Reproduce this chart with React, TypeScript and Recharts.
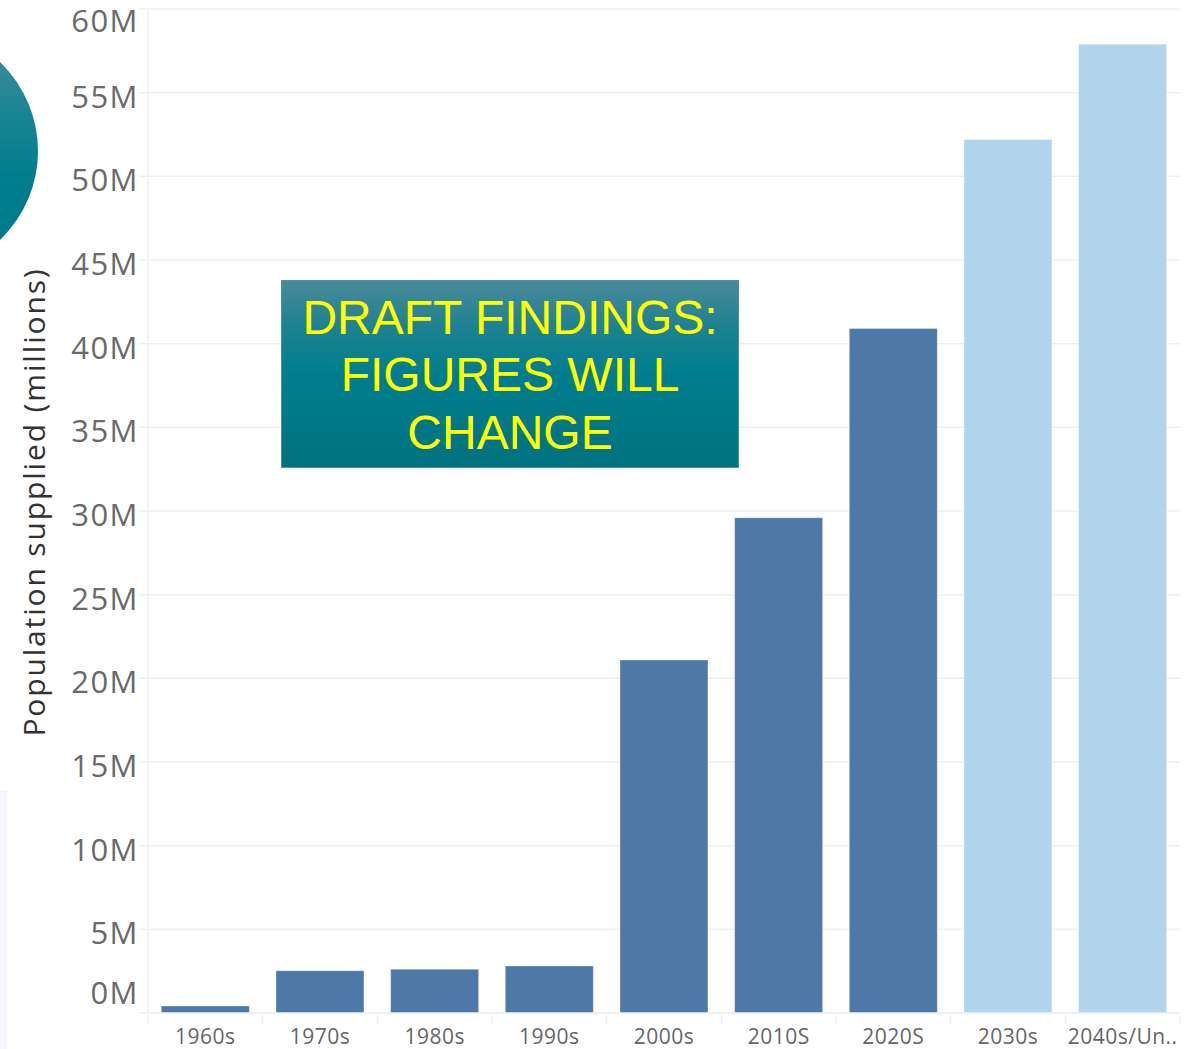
import React from 'react';
import { BarChart, Bar, XAxis, YAxis, CartesianGrid, Cell } from 'recharts';

const categories = ['1960s', '1970s', '1980s', '1990s', '2000s', '2010S', '2020S', '2030s', '2040s/Un..'];
const population = [0.42, 2.53, 2.61, 2.81, 21.1, 29.6, 40.9, 52.2, 57.9];
const projected = [false, false, false, false, false, false, false, true, true];
const yTicks = [0, 5, 10, 15, 20, 25, 30, 35, 40, 45, 50, 55, 60];

const data = categories.map((c, i) => ({ name: c, value: population[i], projected: projected[i] }));

const ACTUAL = '#4e78a6';
const FORECAST = '#b1d5ec';
const GRID = '#efefef';
const FONT = '"Open Sans", "Noto Sans", sans-serif';

const YTick = (props: any) => {
  const { x, y, payload } = props;
  let dy = 3;
  if (payload.value === 60) dy = 11;
  if (payload.value === 0) dy = -21;
  return (
    <text x={x + 2} y={y + dy} textAnchor="end" dominantBaseline="central" fill="#6a6a6a"
      fontFamily={FONT} fontSize={31} letterSpacing={1.5}>
      {payload.value}M
    </text>
  );
};

const XTick = (props: any) => {
  const { x, y, payload, index, width, visibleTicksCount } = props;
  const bw = width && visibleTicksCount ? width / visibleTicksCount : 114.7;
  const last = index === (visibleTicksCount || 9) - 1;
  return (
    <g>
      <line x1={x - bw / 2} x2={x - bw / 2} y1={y - 9} y2={y} stroke={GRID} strokeWidth={1.5} />
      {last && <line x1={x + bw / 2} x2={x + bw / 2} y1={y - 9} y2={y} stroke={GRID} strokeWidth={1.5} />}
      <text x={x} y={y + 12} textAnchor="middle" dominantBaseline="central" fill="#666"
        fontFamily={FONT} fontSize={21} letterSpacing={0.5}>
        {payload.value}
      </text>
    </g>
  );
};

export default function App() {
  return (
    <div style={{ position: 'absolute', left: 0, top: 0, width: 1184, height: 1049, background: '#fff', overflow: 'hidden' }}>
      <div style={{ position: 'absolute', left: 0, top: 790, width: 7, height: 259, background: '#f7f5fd' }} />
      <BarChart width={1184} height={1049} data={data}
        margin={{ top: 9, right: 4, left: 0, bottom: 0 }} barCategoryGap="11.6%">
        <CartesianGrid vertical={false} stroke={GRID} strokeWidth={1.5} />
        <XAxis dataKey="name" height={36} axisLine={{ stroke: GRID, strokeWidth: 1.5 }}
          tickLine={false} tickSize={9} tick={<XTick />} interval={0} />
        <YAxis width={148} domain={[0, 60]} ticks={yTicks} interval={0}
          axisLine={{ stroke: GRID, strokeWidth: 1.5 }} tickLine={{ stroke: GRID, strokeWidth: 1.5 }} tickSize={9}
          tick={<YTick />}
          label={{ value: 'Population supplied (millions)', angle: -90, position: 'insideLeft', dx: 29, dy: -9,
            style: { fontFamily: FONT, fontSize: 30, fill: '#333', letterSpacing: 1.85, textAnchor: 'middle' } }} />
        <Bar dataKey="value" isAnimationActive={false} stroke="rgba(255,255,255,0.35)" strokeWidth={1}>
          {data.map((d, i) => (
            <Cell key={i} fill={d.projected ? FORECAST : ACTUAL} />
          ))}
        </Bar>
      </BarChart>
      <div style={{ position: 'absolute', left: -208, top: 28, width: 246, height: 246, borderRadius: '50%',
        background: 'linear-gradient(180deg, #4d8e9b 0%, #1a8493 35%, #007e8d 60%, #007a89 100%)' }} />
      <div style={{ position: 'absolute', left: 281, top: 280, width: 458, height: 188, boxSizing: 'border-box',
        border: '1px solid #4a93a0',
        background: 'linear-gradient(180deg, #4a8999 0%, #1c8292 25%, #007e8e 50%, #007786 80%, #00727f 100%)',
        display: 'flex', alignItems: 'center', justifyContent: 'center', textAlign: 'center',
        color: '#ffff00', fontFamily: '"Liberation Sans", Arial, sans-serif', fontSize: 48, lineHeight: '57.5px' }}>
        <div style={{ marginTop: 2 }}>DRAFT FINDINGS:<br />FIGURES WILL<br />CHANGE</div>
      </div>
    </div>
  );
}
